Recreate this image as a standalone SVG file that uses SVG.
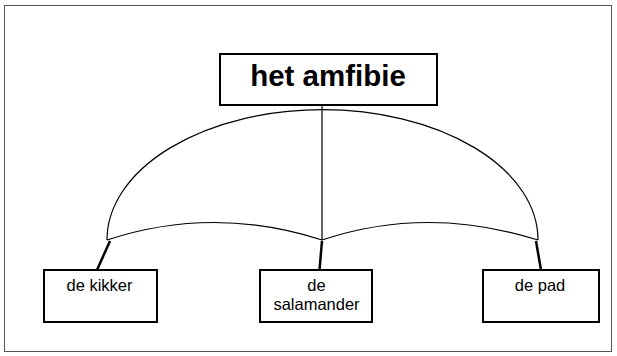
<svg xmlns="http://www.w3.org/2000/svg" width="617" height="356" viewBox="0 0 617 356">
<style>
.box{fill:#fff;stroke:#000;stroke-width:2}
.t{font-family:"Liberation Sans",Arial,sans-serif;font-size:16.5px;text-anchor:middle;fill:#000}
.title{font-family:"Liberation Sans",Arial,sans-serif;font-size:29.5px;font-weight:bold;text-anchor:middle;fill:#000}
.thin{fill:none;stroke:#000;stroke-width:1.2}
.thick{fill:none;stroke:#000;stroke-width:2.5}
</style>
<rect x="0" y="0" width="617" height="356" fill="#fff"/>
<rect x="4.5" y="5.5" width="607" height="346" fill="none" stroke="#555" stroke-width="1"/>
<g id="connectors">
<path class="thin" d="M107,240 A215,130 0 0 1 538,240"/>
<path class="thin" d="M107,240 Q213,205 322,240 Q427,205 538,240"/>
<line class="thin" x1="322" y1="105" x2="322" y2="240"/>
<line class="thick" x1="110" y1="241" x2="97" y2="270"/>
<line class="thick" x1="322" y1="241" x2="319.5" y2="270"/>
<line class="thick" x1="536" y1="241" x2="541" y2="270"/>
</g>
<g id="node-amfibie">
<rect class="box" x="220" y="54" width="217" height="51"/>
<text class="title" x="328" y="85.5">het amfibie</text>
</g>
<g id="node-kikker">
<rect class="box" x="44" y="270" width="113" height="52"/>
<text class="t" x="99.5" y="291">de kikker</text>
</g>
<g id="node-salamander">
<rect class="box" x="260" y="270" width="112" height="52"/>
<text class="t" x="316.5" y="291">de</text>
<text class="t" x="316.5" y="310">salamander</text>
</g>
<g id="node-pad">
<rect class="box" x="483" y="270" width="116" height="52"/>
<text class="t" x="540" y="291">de pad</text>
</g>
</svg>
